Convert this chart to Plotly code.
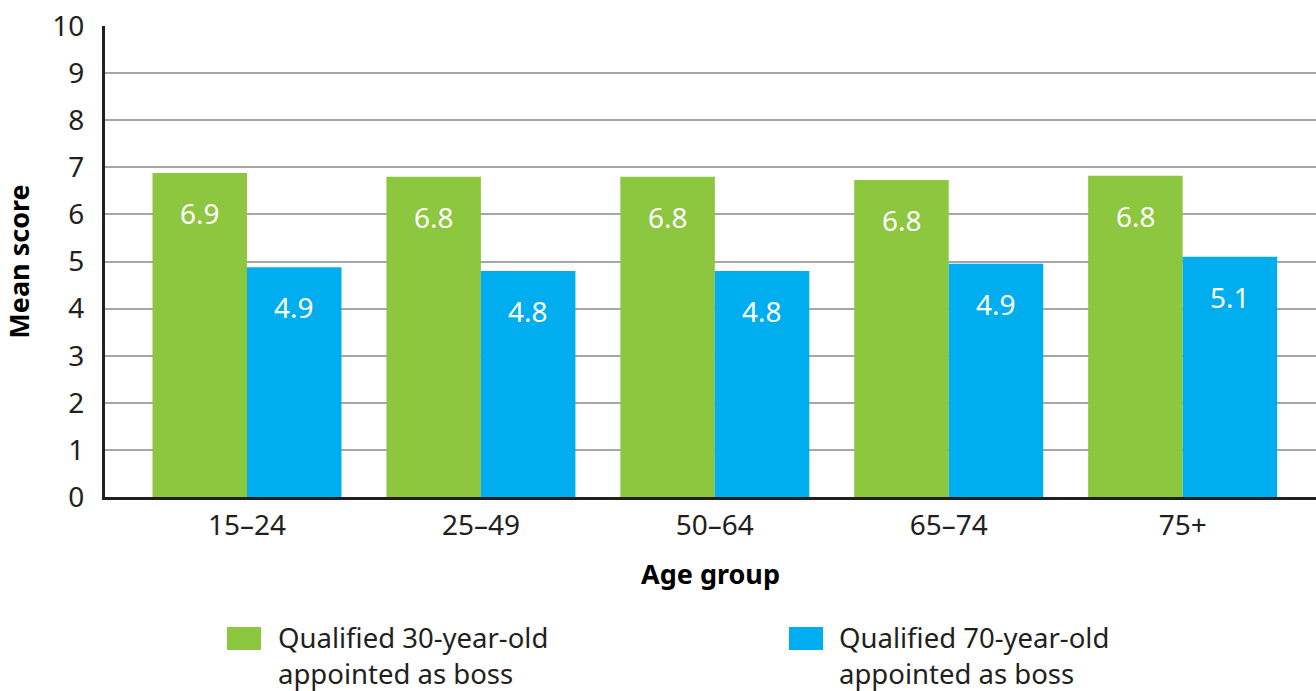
import plotly.graph_objects as go

categories = ["15–24", "25–49", "50–64", "65–74", "75+"]
young_values = [6.88, 6.8, 6.8, 6.73, 6.82]
old_values = [4.88, 4.8, 4.8, 4.95, 5.1]
young_labels = ["6.9", "6.8", "6.8", "6.8", "6.8"]
old_labels = ["4.9", "4.8", "4.8", "4.9", "5.1"]
series_names = ["Qualified 30-year-old<br>appointed as boss", "Qualified 70-year-old<br>appointed as boss"]
y_ticks = list(range(0, 11))

GREEN = "#8dc63f"
BLUE = "#00aeef"
TEXT = "#231f20"
FONT = "Noto Sans"

W, H = 1316, 691
ML, MR, MT, MB = 105, 0, 26, 194
PW = W - ML - MR
PH = H - MT - MB

fig = go.Figure()
fig.add_trace(go.Bar(x=categories, y=young_values, marker_color=GREEN, marker_line_width=0,
                     name="Qualified 30-year-old appointed as boss", showlegend=False))
fig.add_trace(go.Bar(x=categories, y=old_values, marker_color=BLUE, marker_line_width=0,
                     name="Qualified 70-year-old appointed as boss", showlegend=False))

annotations = []
for cat, v, lab in zip(categories, young_values, young_labels):
    annotations.append(dict(x=cat, y=v, xref="x", yref="y", text=lab, showarrow=False,
                            xshift=-47, yshift=-40, font=dict(color="white", size=28, family=FONT)))
for cat, v, lab in zip(categories, old_values, old_labels):
    annotations.append(dict(x=cat, y=v, xref="x", yref="y", text=lab, showarrow=False,
                            xshift=47, yshift=-40, font=dict(color="white", size=28, family=FONT)))

def px_x(p):
    return (p - ML) / PW

def px_y(p):
    return (H - MB - p) / PH

shapes = []
swatches = [(227, 261, GREEN, 277), (789, 823, BLUE, 838)]
for (x0, x1, col, tx), name in zip(swatches, series_names):
    shapes.append(dict(type="rect", xref="paper", yref="paper", x0=px_x(x0), x1=px_x(x1),
                       y0=px_y(650), y1=px_y(627), fillcolor=col, line_width=0))
    annotations.append(dict(x=px_x(tx), y=px_y(655), xref="paper", yref="paper", text=name,
                            showarrow=False, xanchor="left", yanchor="middle", align="left",
                            borderpad=0,
                            font=dict(size=27.5, color=TEXT, family=FONT)))

fig.update_layout(
    width=W, height=H,
    margin=dict(l=ML, r=MR, t=MT, b=MB, autoexpand=False),
    paper_bgcolor="white", plot_bgcolor="white",
    barmode="group", bargap=0.192, bargroupgap=0,
    font=dict(family=FONT, color=TEXT),
    annotations=annotations, shapes=shapes,
    showlegend=False,
)
fig.update_xaxes(range=[-0.607, 4.57], showgrid=False, showline=True, linecolor=TEXT, linewidth=3,
                 ticks="", tickfont=dict(size=28, color=TEXT), ticklabelstandoff=1, automargin=False,
                 ticklabeloverflow="allow",
                 title=dict(text="<b>Age group</b>", font=dict(size=27, color="black"), standoff=24))
fig.update_yaxes(range=[0, 10], tickvals=y_ticks, showgrid=True, gridcolor="#a6a6a6", gridwidth=1.5,
                 showline=True, linecolor=TEXT, linewidth=3, zeroline=False, ticks="", automargin=False,
                 ticklabeloverflow="allow",
                 tickfont=dict(size=28, color=TEXT), ticklabelstandoff=12,
                 title=dict(text="<b>Mean score</b>", font=dict(size=27, color="black"), standoff=23))

fig.write_html("out.html", config={"displayModeBar": False},
               post_script="document.body.style.margin='0';document.body.style.overflow='hidden';")
